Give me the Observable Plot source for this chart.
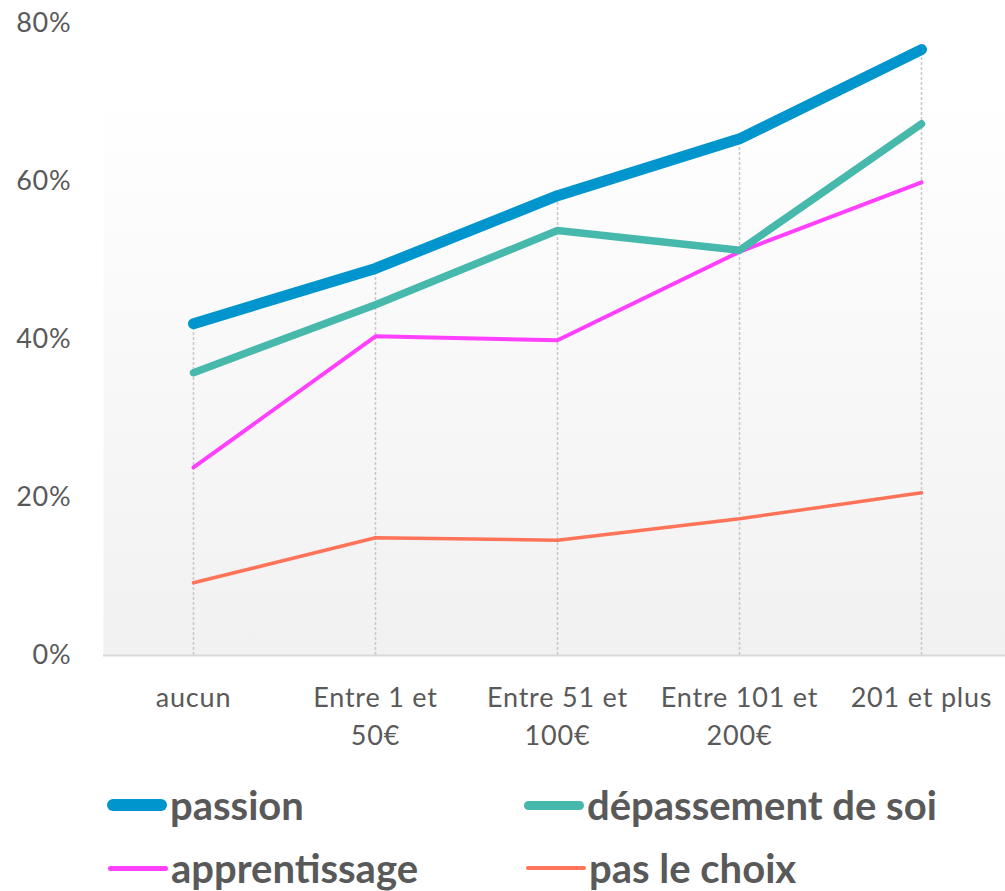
<!DOCTYPE html>
<html>
<head>
<meta charset="utf-8">
<script src="https://cdn.jsdelivr.net/npm/d3@7"></script>
<script src="https://cdn.jsdelivr.net/npm/@observablehq/plot@0.6"></script>
<style>
  html, body { margin: 0; padding: 0; background: #ffffff; }
  body { width: 1005px; height: 891px; overflow: hidden; font-family: Lato, "Open Sans", sans-serif; }
  #chart svg { display: block; }
  #legend { position: relative; width: 1005px; height: 131px; }
  .item { position: absolute; display: flex; align-items: center; height: 56px; transform: translateY(-50%);
          font-weight: bold; font-size: 40px; color: #595959; }
  .sw { width: 60px; border-radius: 6px; margin-right: 3px; }
</style>
</head>
<body>
<div id="chart"></div>
<div id="legend"></div>
<script>
// ---- data ----
const categories = ["aucun", "Entre 1 et 50€", "Entre 51 et 100€", "Entre 101 et 200€", "201 et plus"];
const tickLabels = ["aucun", "Entre 1 et\n50€", "Entre 51 et\n100€", "Entre 101 et\n200€", "201 et plus"];
const seriesNames = ["passion", "dépassement de soi", "apprentissage", "pas le choix"];
const passion = [0.420, 0.490, 0.582, 0.654, 0.767];
const depassement = [0.358, 0.444, 0.538, 0.513, 0.673];
const apprentissage = [0.238, 0.404, 0.399, 0.511, 0.599];
const pasLeChoix = [0.092, 0.149, 0.146, 0.173, 0.206];
const yTicks = [0, 0.2, 0.4, 0.6, 0.8];

// ---- styles ----
const colors = ["#0096cd", "#47b8ac", "#ff40ff", "#ff7359"];
const widths = [11, 7.5, 4, 3.5];
const legendWidths = [12, 9, 5, 4.5];

const seriesValues = [passion, depassement, apprentissage, pasLeChoix];
const rows = seriesValues.map((vals, s) =>
  categories.map((c, i) => ({series: seriesNames[s], cat: c, value: vals[i]})));
const drops = categories.map((c, i) => ({cat: c, top: d3.max(seriesValues, v => v[i])}));

const plot = Plot.plot({
  width: 1005,
  height: 760,
  marginLeft: 103,
  marginRight: 0,
  marginTop: 23,
  marginBottom: 105,
  style: {fontFamily: "Lato, 'Open Sans', sans-serif", color: "#595959", background: "transparent", letterSpacing: "0.8px"},
  x: {type: "point", domain: categories, range: [193, 921], padding: 0},
  y: {domain: [0, 0.8]},
  marks: [
    Plot.frame({fill: "url(#bgGrad)", stroke: null, insetTop: 70}),
    Plot.ruleX(drops, {x: "cat", y1: 0, y2: "top", stroke: "#c8c8c8", strokeWidth: 1.5, strokeDasharray: "3,2"}),
    Plot.ruleY([0], {stroke: "#d9d9d9", strokeWidth: 2}),
    ...rows.map((data, s) => Plot.line(data, {
      x: "cat", y: "value", stroke: colors[s], strokeWidth: widths[s],
      strokeLinecap: "round", strokeLinejoin: "round"
    })).reverse(),
    Plot.axisY(yTicks, {tickSize: 0, tickPadding: 32, tickFormat: d3.format(".0%"), fontSize: 27, fill: "#595959", label: null}),
    Plot.axisX(categories, {tickSize: 0, tickPadding: 24, tickFormat: (d) => tickLabels[categories.indexOf(d)],
      fontSize: 27, lineHeight: 1.41, fill: "#595959", label: null})
  ]
});

const defs = d3.select(plot).insert("defs", ":first-child");
const grad = defs.append("linearGradient").attr("id", "bgGrad").attr("x1", 0).attr("y1", 0).attr("x2", 0).attr("y2", 1);
grad.append("stop").attr("offset", "0%").attr("stop-color", "#ffffff");
grad.append("stop").attr("offset", "100%").attr("stop-color", "#f1f1f1");

document.getElementById("chart").appendChild(plot);

// ---- legend ----
const legendPos = [[107, 45], [524, 45], [108, 108], [526, 108]];
const legend = document.getElementById("legend");
seriesNames.forEach((name, s) => {
  const item = document.createElement("div");
  item.className = "item";
  item.style.left = legendPos[s][0] + "px";
  item.style.top = legendPos[s][1] + "px";
  const sw = document.createElement("span");
  sw.className = "sw";
  sw.style.height = legendWidths[s] + "px";
  sw.style.background = colors[s];
  const label = document.createElement("span");
  label.textContent = name;
  item.appendChild(sw);
  item.appendChild(label);
  legend.appendChild(item);
});
</script>
</body>
</html>
